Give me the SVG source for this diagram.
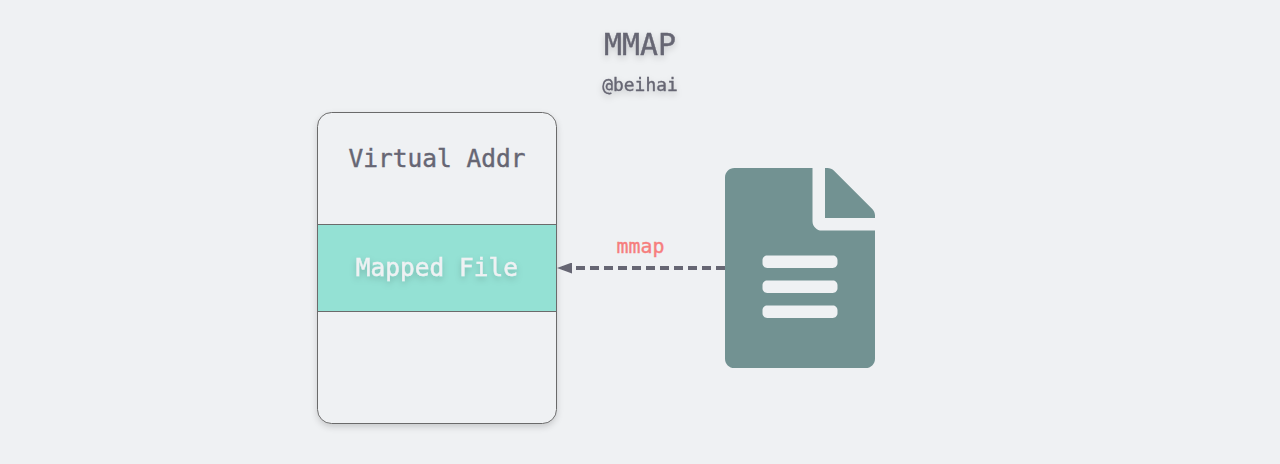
<svg xmlns="http://www.w3.org/2000/svg" width="1280" height="464" viewBox="0 0 1280 464">
<style>
text{font-family:"DejaVu Sans Mono","Liberation Mono",monospace;text-anchor:middle;fill:#666673;stroke:#666673;stroke-width:.4}
.shadow{filter:url(#ts)}
</style>
<defs>
<filter id="ts" x="-30%" y="-60%" width="160%" height="220%"><feDropShadow dx="0" dy="3" stdDeviation="3" flood-color="#000" flood-opacity=".18"/></filter>
<filter id="bs" x="-10%" y="-10%" width="120%" height="120%"><feDropShadow dx="0" dy="3" stdDeviation="3" flood-color="#000" flood-opacity=".16"/></filter>
<marker id="arrow" markerUnits="userSpaceOnUse" markerWidth="15" markerHeight="11" refX="15" refY="5.500" orient="auto"><path d="M15 5.500 0 0V11Z" fill="#666673"/></marker>
</defs>
<rect width="1280" height="464" fill="#eff1f3"/>
<g id="title">
<text class="shadow" x="640" y="55" font-size="29.900">MMAP</text>
<text class="shadow" x="640" y="91" font-size="17.900">@beihai</text>
</g>
<g id="virtual-memory">
<rect x="317.500" y="112.500" width="239" height="311" rx="14" fill="#eff1f3" stroke="#6b6b6b" filter="url(#bs)"/>
<text x="437" y="167" font-size="24.500">Virtual Addr</text>
</g>
<g id="mapped-file">
<rect x="317.500" y="224.500" width="239" height="87" fill="#94e1d4" stroke="#6b6b6b"/>
<text class="shadow" x="437" y="276" font-size="24.500" style="fill:#eff1f3;stroke:#eff1f3">Mapped File</text>
</g>
<g id="file-icon">
<path transform="translate(725 168) scale(.390625)" fill="#729292" d="M224 136V0H24C10.700 0 0 10.700 0 24v464c0 13.300 10.700 24 24 24h336c13.300 0 24-10.700 24-24V160H248c-13.200 0-24-10.800-24-24zm64 236c0 6.600-5.400 12-12 12H108c-6.600 0-12-5.400-12-12v-8c0-6.600 5.400-12 12-12h168c6.600 0 12 5.400 12 12v8zm0-64c0 6.600-5.400 12-12 12H108c-6.600 0-12-5.400-12-12v-8c0-6.600 5.400-12 12-12h168c6.600 0 12 5.400 12 12v8zm0-72v8c0 6.600-5.400 12-12 12H108c-6.600 0-12-5.400-12-12v-8c0-6.600 5.400-12 12-12h168c6.600 0 12 5.400 12 12zm96-114.100v6.100H256V0h6.100c6.400 0 12.500 2.500 17 7l97.900 98c4.500 4.500 7 10.600 7 16.900z"/>
</g>
<g id="connectors">
<line x1="725" y1="268" x2="557" y2="268" stroke="#666673" stroke-width="4" stroke-dasharray="9 5" marker-end="url(#arrow)"/>
<text x="640.500" y="253" font-size="19.900" style="fill:#f67e7d;stroke:#f67e7d">mmap</text>
</g>
</svg>
